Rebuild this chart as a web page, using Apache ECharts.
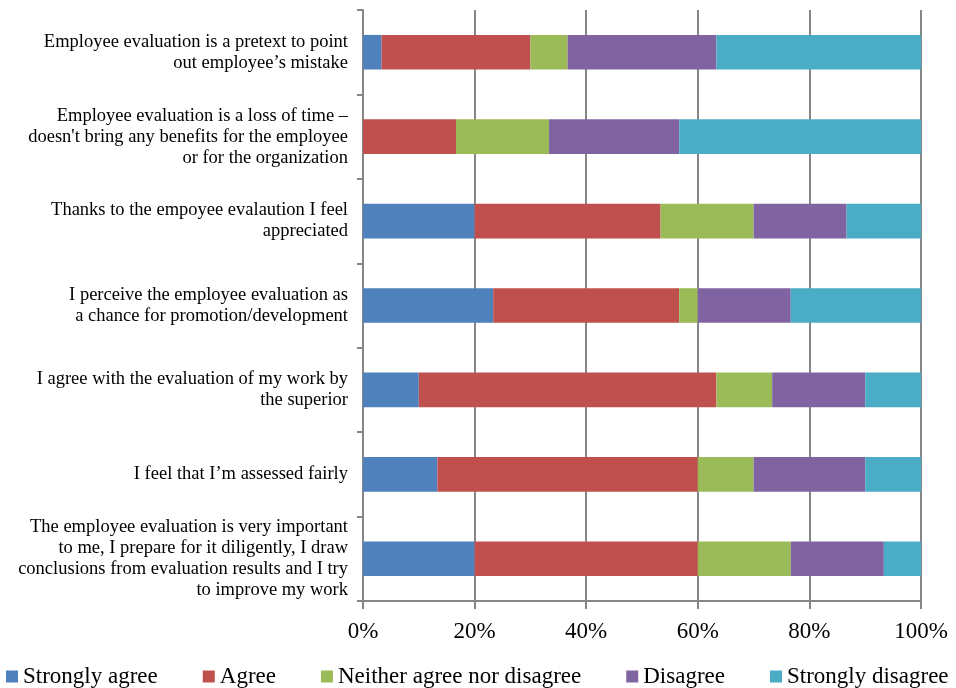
<!DOCTYPE html>
<html><head><meta charset="utf-8">
<script src="https://cdn.jsdelivr.net/npm/echarts@6/dist/echarts.min.js"></script>
<style>html,body{margin:0;padding:0;background:#fff}#c{width:956px;height:688px}</style>
</head><body><div id="c"></div>
<script>
// categories listed bottom-to-top (ECharts category axis order)
var categories = [
  "The employee evaluation is very important\nto me, I prepare for it diligently, I draw\nconclusions from evaluation results and I try\nto improve my work",
  "I feel that I\u2019m assessed fairly",
  "I agree with the evaluation of my work by\nthe superior",
  "I perceive the employee evaluation as\na chance for promotion/development",
  "Thanks to the empoyee evalaution I feel\nappreciated",
  "Employee evaluation is a loss of time \u2013\ndoesn't bring any benefits for the employee\nor for the organization",
  "Employee evaluation is a pretext to point\nout employee\u2019s mistake"
];
var seriesNames = ["Strongly agree","Agree","Neither agree nor disagree","Disagree","Strongly disagree"];
var stronglyAgree    = [20.0, 13.33, 10.0, 23.33, 20.0, 0.0, 3.33];
var agree            = [40.0, 46.67, 53.33, 33.33, 33.33, 16.67, 26.67];
var neither          = [16.67, 10.0, 10.0, 3.33, 16.67, 16.67, 6.67];
var disagree         = [16.67, 20.0, 16.67, 16.67, 16.67, 23.33, 26.67];
var stronglyDisagree = [6.67, 10.0, 10.0, 23.33, 13.33, 43.33, 36.67];
var xTicks = ["0%","20%","40%","60%","80%","100%"];
var colors = ["#4F81BD","#C0504D","#9BBB59","#8064A2","#4BACC6"];

var seriesData = [stronglyAgree, agree, neither, disagree, stronglyDisagree];
var font = "'Liberation Serif','Times New Roman',serif";
var chart = echarts.init(document.getElementById('c'));
chart.setOption({
  animation: false,
  textStyle: {fontFamily: font},
  grid: {left: 363, right: 35, top: 10, bottom: 87, containLabel: false},
  legend: {
    top: 665, left: 6, width: 950, itemWidth: 12, itemHeight: 12, itemGap: 45,
    icon: 'rect', padding: 0,
    textStyle: {fontFamily: font, fontSize: 23, color: '#000', padding: [0,0,0,0]},
    data: seriesNames
  },
  xAxis: {
    type: 'value', min: 0, max: 100, interval: 20,
    axisLine: {show: true, lineStyle: {color: '#868686', width: 2}},
    axisTick: {show: true, length: 8, lineStyle: {color: '#868686', width: 2}},
    splitLine: {show: true, lineStyle: {color: '#868686', width: 2}},
    axisLabel: {
      fontFamily: font, fontSize: 23, color: '#000', margin: 19,
      formatter: function(v){ return xTicks[Math.round(v/20)]; }
    }
  },
  yAxis: {
    type: 'category', data: categories,
    axisLine: {show: true, lineStyle: {color: '#868686', width: 2}},
    axisTick: {show: true, length: 6, lineStyle: {color: '#868686', width: 2}},
    axisLabel: {fontFamily: font, fontSize: 18.5, color: '#000', lineHeight: 21, margin: 15, align: 'right'}
  },
  series: seriesNames.map(function(n, i){
    return {
      name: n, type: 'bar', stack: 'total', barWidth: '41%',
      itemStyle: {color: colors[i]},
      data: seriesData[i]
    };
  })
});
</script></body></html>
